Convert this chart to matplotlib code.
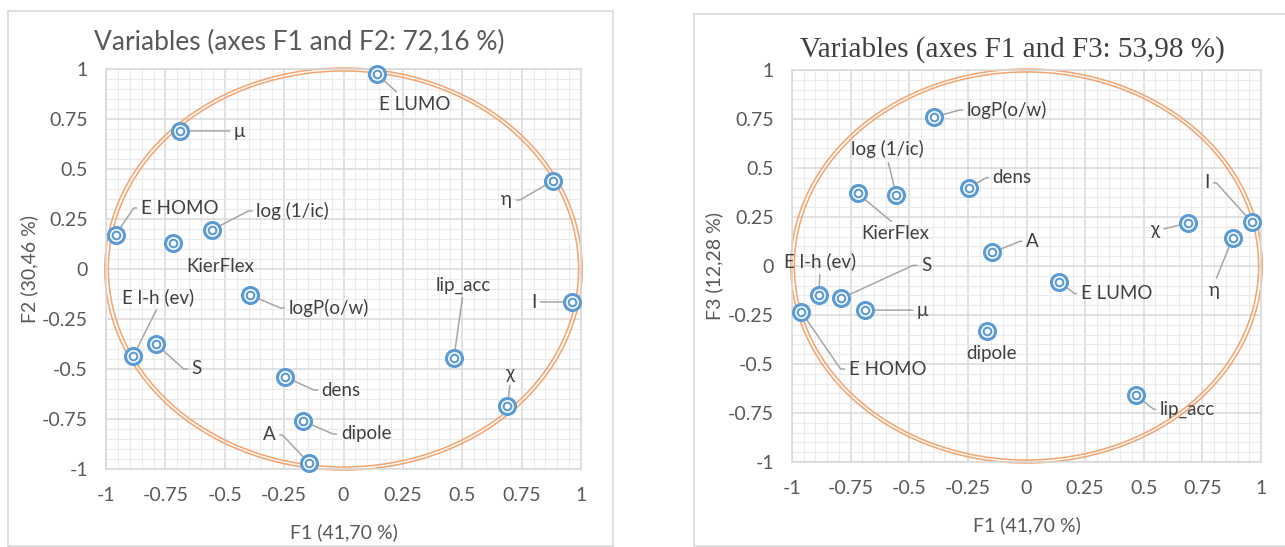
import numpy as np
import matplotlib.pyplot as plt
from matplotlib.patches import Ellipse, Rectangle
from matplotlib.ticker import MultipleLocator

names = ["E LUMO", "μ", "η", "E HOMO", "KierFlex", "log (1/ic)", "logP(o/w)", "lip_acc",
         "I", "E l-h (ev)", "S", "dens", "χ", "dipole", "A"]
f1 = np.array([0.14, -0.69, 0.88, -0.96, -0.72, -0.555, -0.395, 0.465,
               0.96, -0.885, -0.79, -0.245, 0.69, -0.17, -0.145])
f2 = np.array([0.975, 0.69, 0.44, 0.17, 0.13, 0.195, -0.13, -0.445,
               -0.165, -0.435, -0.375, -0.54, -0.685, -0.76, -0.97])
f3 = np.array([-0.08, -0.225, 0.145, -0.235, 0.37, 0.36, 0.76, -0.66,
               0.225, -0.15, -0.165, 0.40, 0.22, -0.33, 0.07])
ticks = [-1, -0.75, -0.5, -0.25, 0, 0.25, 0.5, 0.75, 1]

# label placement: (dx, dy) in pixels, leader relpos, arm angle, arm length (None = no leader)
lab_left = [(38, -30, (0.3, 1), 0, 0), (60, 0, (0, 0.5), 180, 0), (-46, -19, (1, 0.5), 0, 8),
            (64, 27, (0, 0.5), 180, 7), (48, -24, None, 0, 0), (81, 19, (0, 0.5), 180, 8),
            (79, -13, (0, 0.5), 180, 8), (9, 73, (0.5, 0), 0, 0), (-38, 0, (1, 0.5), 0, 0),
            (25, 59, (0.5, 0), 0, 0), (41, -25, (0, 0.5), 180, 8), (56, -13, (0, 0.5), 180, 8),
            (3, 33, (0.5, 0), 0, 0), (63, -13, (0, 0.5), 180, 8), (-40, 28, (1, 0.5), 0, 7)]
lab_right = [(57, -12, (0, 0.5), 180, 6), (58, 0, (0, 0.5), 180, 0), (-18, -53, (0.5, 1), 0, 0),
             (86, -57, (0, 0.5), 180, 8), (38, -40, (0.5, 1), 0, 0), (-9, 46, (0.5, 0), 0, 0),
             (73, 7, (0, 0.5), 180, 7), (52, -14, (0, 0.5), 180, 6), (-45, 39, (1, 0.5), 0, 7),
             (1, 34, (0.5, 0), 0, 0), (85, 33, (0, 0.5), 180, 8), (43, 10, (0, 0.5), 180, 6),
             (-33, -7, (1, 0.5), 0, 0), (5, -23, None, 0, 0), (40, 11, (0, 0.5), 180, 6)]

plt.rcParams['font.family'] = ['Lato', 'DejaVu Sans']
blue = '#5B9BD5'
txt = '#404040'

fig = plt.figure(figsize=(12.85, 5.47), dpi=100)
W, H = 1285, 547

# chart frames
fig.patches.append(Rectangle((8 / W, 1 - 546 / H), 605 / W, 535 / H, transform=fig.transFigure,
                             fill=False, ec='#D9D9D9', lw=1.2))
fig.patches.append(Rectangle((694 / W, 1 - 546 / H), 600 / W, 532 / H, transform=fig.transFigure,
                             fill=False, ec='#D9D9D9', lw=1.2))


def panel(rect, fy, labels):
    ax = fig.add_axes(rect)
    ax.set_xlim(-1, 1)
    ax.set_ylim(-1, 1)
    ax.set_xticks(ticks)
    ax.set_yticks(ticks)
    ax.set_xticklabels([f"{t:g}" for t in ticks])
    ax.set_yticklabels([f"{t:g}" for t in ticks])
    ax.xaxis.set_minor_locator(MultipleLocator(0.05))
    ax.yaxis.set_minor_locator(MultipleLocator(0.05))
    ax.grid(which='major', color='#D9D9D9', lw=1.1, zorder=0)
    ax.grid(which='minor', color='#EBEBEB', lw=0.8, zorder=0)
    ax.set_axisbelow(True)
    ax.tick_params(which='both', length=0, labelsize=14, labelcolor='#595959', pad=13)
    for s in ax.spines.values():
        s.set_color('#D9D9D9')
        s.set_linewidth(1.1)
    for r in (1.005, 0.99):
        ax.add_patch(Ellipse((0, 0), 2 * r, 2 * r, fill=False, ec='#F4A46E', lw=1.1,
                             zorder=2, clip_on=False))
    for i, name in enumerate(names):
        dx, dy, rel, ang, arm = labels[i]
        kw = dict(xy=(f1[i], fy[i]), xytext=(dx, dy), textcoords='offset pixels',
                  ha='center', va='center', fontsize=13.5, color=txt, zorder=3,
                  annotation_clip=False)
        if rel is not None:
            cs = f'arc,angleA={ang},armA={arm},armB=0,rad=0' if arm else 'arc3,rad=0'
            kw['arrowprops'] = dict(arrowstyle='-', color='#A6A6A6', lw=1.1, relpos=rel,
                                    shrinkA=1, shrinkB=0, connectionstyle=cs)
        ax.annotate(name, **kw)
    ax.plot(f1, fy, 'o', ms=11.5, mfc='white', mec=blue, mew=2.2, zorder=4, clip_on=False)
    ax.plot(f1, fy, 'o', ms=5.5, mfc='none', mec=blue, mew=1.5, zorder=5, clip_on=False)
    return ax


panel([106 / W, 1 - 469 / H, 475 / W, 400 / H], f2, lab_left)
panel([792 / W, 1 - 462 / H, 469 / W, 392 / H], f3, lab_right)

fig.text(299 / W, 1 - 42 / H, "Variables (axes F1 and F2: 72,16 %)", ha='center', va='center',
         fontsize=19, color='#595959')
fig.text(1012 / W, 1 - 50 / H, "Variables (axes F1 and F3: 53,98 %)", ha='center', va='center',
         fontsize=21, color=txt, family='Liberation Serif')
fig.text(344 / W, 1 - 532 / H, "F1 (41,70 %)", ha='center', va='center', fontsize=14, color='#595959')
fig.text(1027 / W, 1 - 525 / H, "F1 (41,70 %)", ha='center', va='center', fontsize=14, color='#595959')
fig.text(29 / W, 1 - 269 / H, "F2 (30,46 %)", ha='center', va='center', fontsize=14,
         color='#595959', rotation=90)
fig.text(714 / W, 1 - 266 / H, "F3 (12,28 %)", ha='center', va='center', fontsize=14,
         color='#595959', rotation=90)

fig.savefig("out.png", dpi=100)
